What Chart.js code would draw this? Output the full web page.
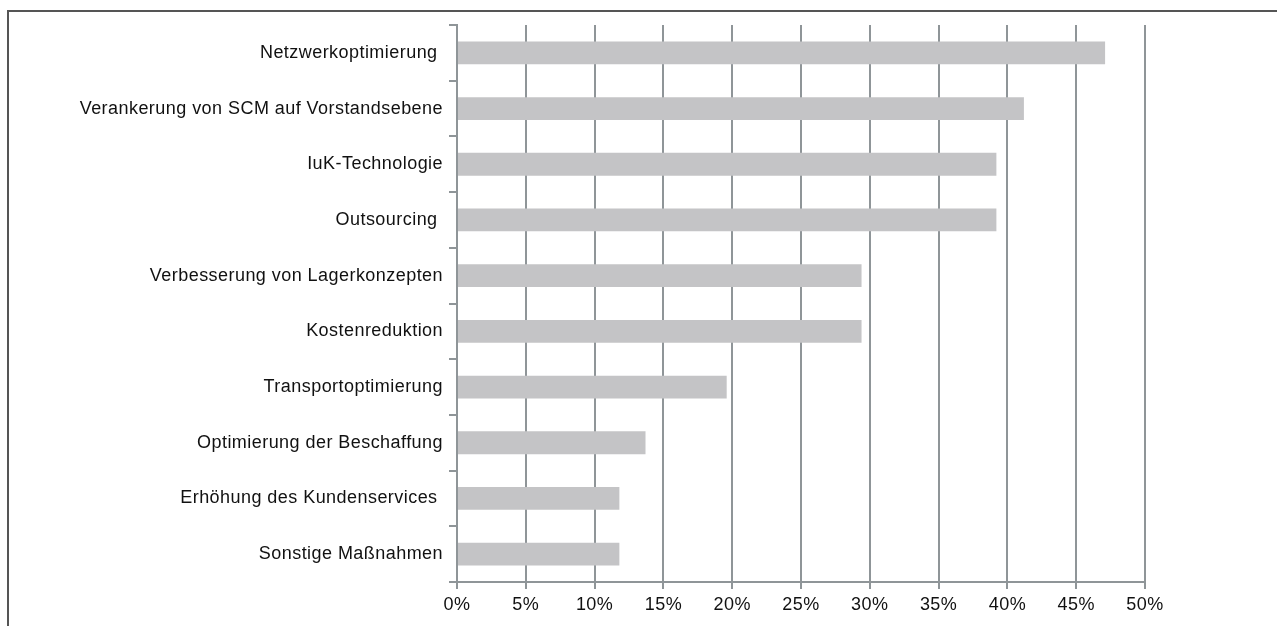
<!DOCTYPE html>
<html>
<head>
<meta charset="utf-8">
<script src="https://cdn.jsdelivr.net/npm/chart.js@4"></script>
<style>
  html, body { margin: 0; padding: 0; background: #fff; }
  #wrap { position: relative; width: 1277px; height: 626px; overflow: hidden; }
  #frame { position: absolute; left: 7px; top: 10px; right: -4px; bottom: -4px; border-top: 2px solid #555; border-left: 2px solid #555; }
  #c { position: absolute; left: 0; top: 0; }
</style>
</head>
<body>
<div id="wrap">
  <div id="frame"></div>
  <canvas id="c" width="1277" height="626"></canvas>
</div>
<script>
// categories top -> bottom, trailing spaces kept as in the source labels
const categories = [
  'Netzwerkoptimierung ',
  'Verankerung von SCM auf Vorstandsebene',
  'IuK-Technologie',
  'Outsourcing ',
  'Verbesserung von Lagerkonzepten',
  'Kostenreduktion',
  'Transportoptimierung',
  'Optimierung der Beschaffung',
  'Erhöhung des Kundenservices ',
  'Sonstige Maßnahmen',
];
const shares = [47.1, 41.2, 39.2, 39.2, 29.4, 29.4, 19.6, 13.7, 11.8, 11.8];   // percent
const xTicks = [0, 5, 10, 15, 20, 25, 30, 35, 40, 45, 50];

const GRID = '#8f9598';
const FONT = { family: 'Liberation Sans, Arial, sans-serif', size: 18 };

// source text is set a little wider than plain Arial
const spacing = { id: 'spacing', beforeDraw: (ch) => { ch.ctx.letterSpacing = '0.45px'; } };

new Chart(document.getElementById('c'), {
  type: 'bar',
  data: {
    labels: categories,
    datasets: [{ data: shares, backgroundColor: '#c4c4c6', borderWidth: 0, categoryPercentage: 1, barPercentage: 0.41 }],
  },
  plugins: [spacing],
  options: {
    indexAxis: 'y', responsive: false, animation: false,
    layout: { padding: { top: 25, right: 132, left: 0, bottom: 0 } },
    plugins: { legend: { display: false }, tooltip: { enabled: false } },
    scales: {
      x: {
        min: 0, max: 50,
        afterBuildTicks: (s) => { s.ticks = xTicks.map((v) => ({ value: v })); },
        afterFit: (s) => { s.height = 44; },   // plot bottom sits at y=582
        ticks: { color: '#111', font: FONT, padding: 5, maxRotation: 0, callback: (v) => v + '%' },
        grid: { color: GRID, lineWidth: 2, tickLength: 7 },
        border: { color: GRID, width: 2 },
      },
      y: {
        afterFit: (s) => { s.width = 457; },   // plot left edge at x=457
        ticks: { color: '#111', font: FONT, padding: 6, autoSkip: false },
        grid: { color: GRID, lineWidth: 2, tickLength: 8, drawOnChartArea: false, offset: true },
        border: { color: GRID, width: 2 },
      },
    },
  },
});
</script>
</body>
</html>
